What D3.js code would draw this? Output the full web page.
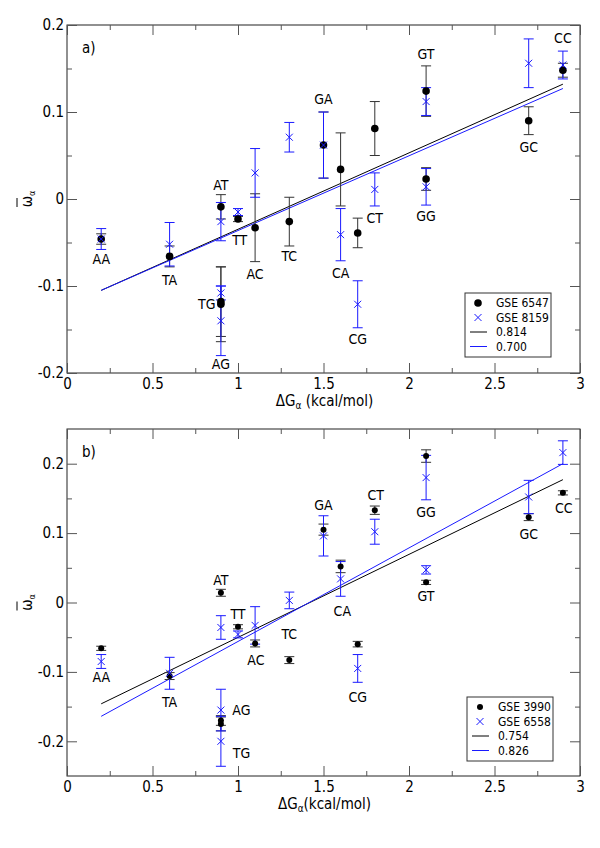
<!DOCTYPE html>
<html><head><meta charset="utf-8">
<script src="https://cdn.jsdelivr.net/npm/d3@7"></script>
<style>
body{margin:0;background:#fff}
text{font-family:"DejaVu Sans Condensed","DejaVu Sans",sans-serif;fill:#000}
</style>
</head><body>
<svg id="c" width="600" height="848"></svg>
<script>
// ---------- DATA ----------
const categories = ["AA","TA","AT","TG","AG","TT","AC","TC","GA","CA","CG","CT","GT","GG","GC","CC"];
const deltaG     = [0.2,0.6,0.9,0.9,0.9,1.0,1.1,1.3,1.5,1.6,1.7,1.8,2.1,2.1,2.7,2.9];
const xTicks = [0,0.5,1,1.5,2,2.5,3];
const xTickLabels = ["0","0.5","1","1.5","2","2.5","3"];

// panel a
const a_gse6547     = [-0.046,-0.066,-0.009,-0.118,-0.121,-0.023,-0.033,-0.026,0.062,0.034,-0.039,0.081,0.124,0.023,0.090,0.148];
const a_gse6547_err = [0.006,0.012,0.014,0.040,0.043,0.003,0.039,0.028,0.038,0.042,0.017,0.031,0.029,0.013,0.016,0.008];
const a_gse8159     = [-0.046,-0.052,-0.026,-0.108,-0.140,-0.015,0.030,0.071,0.062,-0.041,-0.121,0.011,0.112,0.014,0.156,0.154];
const a_gse8159_err = [0.012,0.025,0.022,0.008,0.040,0.004,0.028,0.017,0.038,0.030,0.027,0.019,0.016,0.021,0.028,0.016];
const a_labelX = [0.2,0.6,0.9,0.817,0.9,1.01,1.1,1.3,1.5,1.6,1.7,1.8,2.1,2.1,2.7,2.9];
const a_labelY = [-0.069,-0.093,0.016,-0.121,-0.190,-0.047,-0.086,-0.066,0.115,-0.085,-0.161,-0.022,0.167,-0.020,0.060,0.185];
const a_fitX = [0.2,2.9];
const a_fitBlack = [-0.105,0.132];
const a_fitBlue  = [-0.105,0.127];
const a_yTicks = [-0.2,-0.1,0,0.1,0.2];
const a_yTickLabels = ["-0.2","-0.1","0","0.1","0.2"];
const a_legend = ["GSE 6547","GSE 8159","0.814","0.700"];

// panel b
const b_gse3990     = [-0.066,-0.106,0.014,-0.175,-0.170,-0.035,-0.059,-0.083,0.105,0.052,-0.060,0.133,0.029,0.211,0.123,0.158];
const b_gse3990_err = [0.003,0.005,0.005,0.010,0.007,0.003,0.005,0.005,0.008,0.009,0.004,0.006,0.003,0.009,0.005,0.003];
const b_gse6558     = [-0.085,-0.102,-0.036,-0.200,-0.155,-0.046,-0.033,0.003,0.096,0.034,-0.095,0.102,0.047,0.180,0.152,0.216];
const b_gse6558_err = [0.010,0.023,0.017,0.036,0.030,0.005,0.027,0.012,0.029,0.025,0.020,0.018,0.006,0.032,0.024,0.017];
const b_labelX = [0.2,0.6,0.9,1.02,1.02,1.0,1.105,1.3,1.5,1.61,1.7,1.805,2.1,2.1,2.7,2.905];
const b_labelY = [-0.107,-0.143,0.033,-0.217,-0.155,-0.016,-0.083,-0.046,0.140,-0.012,-0.136,0.155,0.009,0.130,0.099,0.136];
const b_fitX = [0.2,2.9];
const b_fitBlack = [-0.146,0.177];
const b_fitBlue  = [-0.164,0.200];
const b_yTicks = [-0.2,-0.1,0,0.1,0.2];
const b_yTickLabels = ["-0.2","-0.1","0","0.1","0.2"];
const b_legend = ["GSE 3990","GSE 6558","0.754","0.826"];

// ---------- DRAW ----------
const svg = d3.select("#c");
const BLUE = "#1a1aff", BLK = "#000", GREY = "#333";

function panel(o){
  const g = svg.append("g");
  const x = d3.scaleLinear().domain([0,3]).range([o.left,o.right]);
  const y = d3.scaleLinear().domain(o.yDomain).range([o.bottom,o.top]);

  // frame
  g.append("rect").attr("x",o.left).attr("y",o.top).attr("width",o.right-o.left).attr("height",o.bottom-o.top)
    .attr("fill","none").attr("stroke","#222").attr("stroke-width",1);

  // x axes (bottom/top), inward ticks
  const xMinor = d3.range(0,3.001,0.25).filter(v=>Math.abs(v*2-Math.round(v*2))>1e-6);
  g.append("g").attr("transform",`translate(0,${o.bottom})`)
    .call(d3.axisBottom(x).tickValues(xTicks).tickSize(-10).tickPadding(5).tickFormat((d,i)=>xTickLabels[i]));
  g.append("g").attr("transform",`translate(0,${o.bottom})`)
    .call(d3.axisBottom(x).tickValues(xMinor).tickSize(-5).tickFormat(""));
  g.append("g").attr("transform",`translate(0,${o.top})`)
    .call(d3.axisTop(x).tickValues(xTicks).tickSize(-10).tickFormat(""));
  g.append("g").attr("transform",`translate(0,${o.top})`)
    .call(d3.axisTop(x).tickValues(xMinor).tickSize(-5).tickFormat(""));
  // y axes
  const yMinor = o.yMinor;
  g.append("g").attr("transform",`translate(${o.left},0)`)
    .call(d3.axisLeft(y).tickValues(o.yTicks).tickSize(-10).tickPadding(3).tickFormat((d,i)=>o.yTickLabels[i]));
  g.append("g").attr("transform",`translate(${o.left},0)`)
    .call(d3.axisLeft(y).tickValues(yMinor).tickSize(-5).tickFormat(""));
  g.append("g").attr("transform",`translate(${o.right},0)`)
    .call(d3.axisRight(y).tickValues(o.yTicks).tickSize(-10).tickFormat(""));
  g.append("g").attr("transform",`translate(${o.right},0)`)
    .call(d3.axisRight(y).tickValues(yMinor).tickSize(-5).tickFormat(""));
  g.selectAll(".domain").remove();
  g.selectAll(".tick line").attr("stroke","#555");
  g.selectAll(".tick text").attr("font-size",15).attr("fill","#000")
    .style("font-family",'"DejaVu Sans Condensed","DejaVu Sans",sans-serif');

  // regression lines
  const line = d3.line().x(d=>x(d[0])).y(d=>y(d[1]));
  g.append("path").attr("d",line(o.fitX.map((v,i)=>[v,o.fitBlack[i]]))).attr("stroke",BLK).attr("stroke-width",1).attr("fill","none");
  g.append("path").attr("d",line(o.fitX.map((v,i)=>[v,o.fitBlue[i]]))).attr("stroke",BLUE).attr("stroke-width",1).attr("fill","none");

  // error bars
  function errbars(vals, errs, col){
    const eg = g.append("g").attr("stroke",col).attr("stroke-width",1).attr("fill","none");
    vals.forEach((v,i)=>{
      const cx = x(deltaG[i]), y1 = y(v+errs[i]), y2 = y(v-errs[i]);
      eg.append("line").attr("x1",cx).attr("x2",cx).attr("y1",y1).attr("y2",y2);
      eg.append("line").attr("x1",cx-5).attr("x2",cx+5).attr("y1",y1).attr("y2",y1);
      eg.append("line").attr("x1",cx-5).attr("x2",cx+5).attr("y1",y2).attr("y2",y2);
    });
  }
  errbars(o.s1, o.s1err, GREY);
  errbars(o.s2, o.s2err, BLUE);

  // markers
  g.append("g").selectAll("circle").data(o.s1).join("circle")
    .attr("cx",(d,i)=>x(deltaG[i])).attr("cy",d=>y(d)).attr("r",o.dotR).attr("fill",BLK);
  const xm = o.xSize;
  const xg = g.append("g").attr("stroke",BLUE).attr("stroke-width",1);
  o.s2.forEach((v,i)=>{
    const cx = x(deltaG[i]), cy = y(v);
    xg.append("line").attr("x1",cx-xm).attr("y1",cy-xm).attr("x2",cx+xm).attr("y2",cy+xm);
    xg.append("line").attr("x1",cx-xm).attr("y1",cy+xm).attr("x2",cx+xm).attr("y2",cy-xm);
  });

  // point labels
  g.append("g").selectAll("text").data(categories).join("text")
    .attr("x",(d,i)=>x(o.labelX[i])).attr("y",(d,i)=>y(o.labelY[i]))
    .attr("text-anchor","middle").attr("dominant-baseline","central").attr("font-size",14).text(d=>d);

  // panel tag
  g.append("text").attr("x",o.left+15).attr("y",o.top+23).attr("dominant-baseline","central")
    .attr("font-size",15).text(o.tag);

  // x label (one text element; subscript via baseline-shift)
  const xl = g.append("text").attr("x",(o.left+o.right)/2+1).attr("y",o.bottom+33).attr("text-anchor","middle")
    .attr("font-size",15);
  xl.append("tspan").text("ΔG");
  xl.append("tspan").attr("font-size",10).attr("baseline-shift","-30%").text("α");
  xl.append("tspan").text(o.xlabSpace ? " (kcal/mol)" : "(kcal/mol)");

  // y label
  const yc = (o.top+o.bottom)/2;
  const yl = g.append("g").attr("transform",`translate(27,${yc}) rotate(-90)`);
  const yt = yl.append("text").attr("x",0).attr("y",5).attr("text-anchor","middle").attr("font-size",15);
  yt.append("tspan").text("ω");
  yt.append("tspan").attr("font-size",9).attr("baseline-shift","-30%").text("α");
  yl.append("line").attr("x1",-8).attr("x2",1).attr("y1",-10).attr("y2",-10).attr("stroke","#000").attr("stroke-width",1);

  // legend
  const L = o.legend;
  const lg = g.append("g");
  lg.append("rect").attr("x",L.x).attr("y",L.y).attr("width",86).attr("height",64)
    .attr("fill","#fff").attr("stroke","#333").attr("stroke-width",1);
  const rows = [10,24.5,39,53.5].map(d=>L.y+d);
  const sx = L.x+13;
  lg.append("circle").attr("cx",sx).attr("cy",rows[0]).attr("r",o.dotR).attr("fill",BLK);
  lg.append("line").attr("x1",sx-xm).attr("y1",rows[1]-xm).attr("x2",sx+xm).attr("y2",rows[1]+xm).attr("stroke",BLUE);
  lg.append("line").attr("x1",sx-xm).attr("y1",rows[1]+xm).attr("x2",sx+xm).attr("y2",rows[1]-xm).attr("stroke",BLUE);
  lg.append("line").attr("x1",sx-8).attr("x2",sx+9).attr("y1",rows[2]).attr("y2",rows[2]).attr("stroke",BLK);
  lg.append("line").attr("x1",sx-8).attr("x2",sx+9).attr("y1",rows[3]).attr("y2",rows[3]).attr("stroke",BLUE);
  lg.selectAll("text.lt").data(o.legendLabels).join("text").attr("class","lt")
    .attr("x",L.x+31).attr("y",(d,i)=>rows[i]+4.3).attr("font-size",12).text(d=>d);
}

panel({left:67,right:580,top:25,bottom:373,yDomain:[-0.2,0.2],
  yTicks:a_yTicks,yTickLabels:a_yTickLabels,yMinor:[-0.15,-0.05,0.05,0.15],
  s1:a_gse6547,s1err:a_gse6547_err,s2:a_gse8159,s2err:a_gse8159_err,
  labelX:a_labelX,labelY:a_labelY,fitX:a_fitX,fitBlack:a_fitBlack,fitBlue:a_fitBlue,
  dotR:3.8,xSize:3.5,tag:"a)",xlabSpace:true,legend:{x:465,y:293},legendLabels:a_legend});

panel({left:67,right:580,top:429,bottom:776,yDomain:[-0.25,0.25],
  yTicks:b_yTicks,yTickLabels:b_yTickLabels,yMinor:[-0.15,-0.05,0.05,0.15],
  s1:b_gse3990,s1err:b_gse3990_err,s2:b_gse6558,s2err:b_gse6558_err,
  labelX:b_labelX,labelY:b_labelY,fitX:b_fitX,fitBlack:b_fitBlack,fitBlue:b_fitBlue,
  dotR:3,xSize:3.5,tag:"b)",xlabSpace:false,legend:{x:467,y:697},legendLabels:b_legend});
</script>
</body></html>
